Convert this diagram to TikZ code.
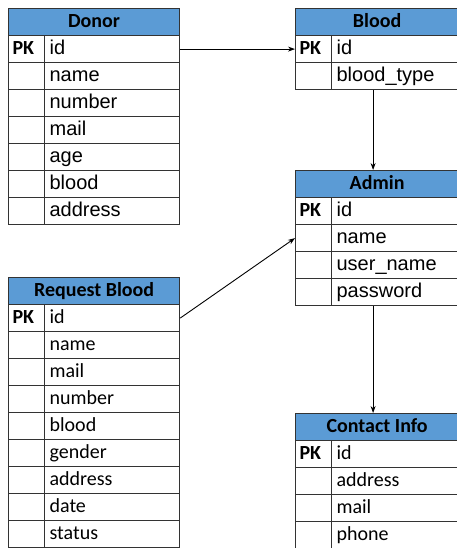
\documentclass[tikz,border=0pt]{standalone}
\usepackage{fontspec}
\setmainfont{Liberation Sans}
\newfontfamily\calibri{Carlito}
\usetikzlibrary{arrows.meta}
\definecolor{headblue}{HTML}{5B9BD5}
\definecolor{gridgray}{HTML}{333333}
\newcommand{\cellsize}{\fontsize{20}{24}\selectfont}

\begin{document}
\begin{tikzpicture}[x=1pt, y=-1pt,
        cell/.style={draw=gridgray, line width=1.2pt, minimum height=27pt, inner ysep=0pt,
            text height=14pt, text depth=4pt, anchor=north west},
        head/.style={cell, fill=headblue, inner xsep=0pt, font=\calibri\bfseries\cellsize},
        pkcell/.style={cell, minimum width=36pt, inner xsep=4pt, text width=28pt, align=left,
            font=\calibri\bfseries\cellsize},
        field/.style={cell, inner xsep=5pt, align=left, font=\cellsize},
        link/.style={-{Stealth[length=7pt, width=5pt]}, line width=0.9pt}]
        \useasboundingbox (0,0) rectangle (457,548);

        % Donor
        \node[head, minimum width=171pt] (donor) at (8,8) {Donor};
        \foreach \k/\f [count=\i] in {PK/id, {}/name, {}/number, {}/mail, {}/age, {}/blood, {}/address} {
            \node[pkcell] (donor-pk-\i) at (8, 8+27*\i) {\k};
            \node[field, text width=125pt] (donor-\i) at (44, 8+27*\i) {\f};
        }

        % Blood
        \node[head, minimum width=163pt] (blood) at (295,8) {Blood};
        \foreach \k/\f [count=\i] in {PK/id, {}/blood\_type} {
            \node[pkcell] (blood-pk-\i) at (295, 8+27*\i) {\k};
            \node[field, text width=117pt] (blood-\i) at (331, 8+27*\i) {\f};
        }

        % Admin
        \node[head, minimum width=163pt] (admin) at (295,170) {Admin};
        \foreach \k/\f [count=\i] in {PK/id, {}/name, {}/user\_name, {}/password} {
            \node[pkcell] (admin-pk-\i) at (295, 170+27*\i) {\k};
            \node[field, text width=117pt] (admin-\i) at (331, 170+27*\i) {\f};
        }

        % Request Blood
        \node[head, minimum width=171pt] (request) at (8,277) {Request Blood};
        \foreach \k/\f [count=\i] in {PK/id, {}/name, {}/mail, {}/number, {}/blood, {}/gender, {}/address, {}/date, {}/status} {
            \node[pkcell] (request-pk-\i) at (8, 277+27*\i) {\k};
            \node[field, text width=125pt, font=\calibri\cellsize] (request-\i) at (44, 277+27*\i) {\f};
        }

        % Contact Info
        \node[head, minimum width=163pt] (contact) at (295,413) {Contact Info};
        \foreach \k/\f [count=\i] in {PK/id, {}/address, {}/mail, {}/phone} {
            \node[pkcell] (contact-pk-\i) at (295, 413+27*\i) {\k};
            \node[field, text width=117pt, font=\calibri\cellsize] (contact-\i) at (331, 413+27*\i) {\f};
        }

        \draw[link] (donor-1.east) -- (blood-pk-1.west);
        \draw[link] ([xshift=-4pt]blood-2.south -| admin.north) -- ([xshift=-4pt]admin.north);
        \draw[link] (request-1.east) -- (admin-pk-2.west);
        \draw[link] ([xshift=-4pt]admin-4.south -| contact.north) -- ([xshift=-4pt]contact.north);
    \end{tikzpicture}
\end{document}
